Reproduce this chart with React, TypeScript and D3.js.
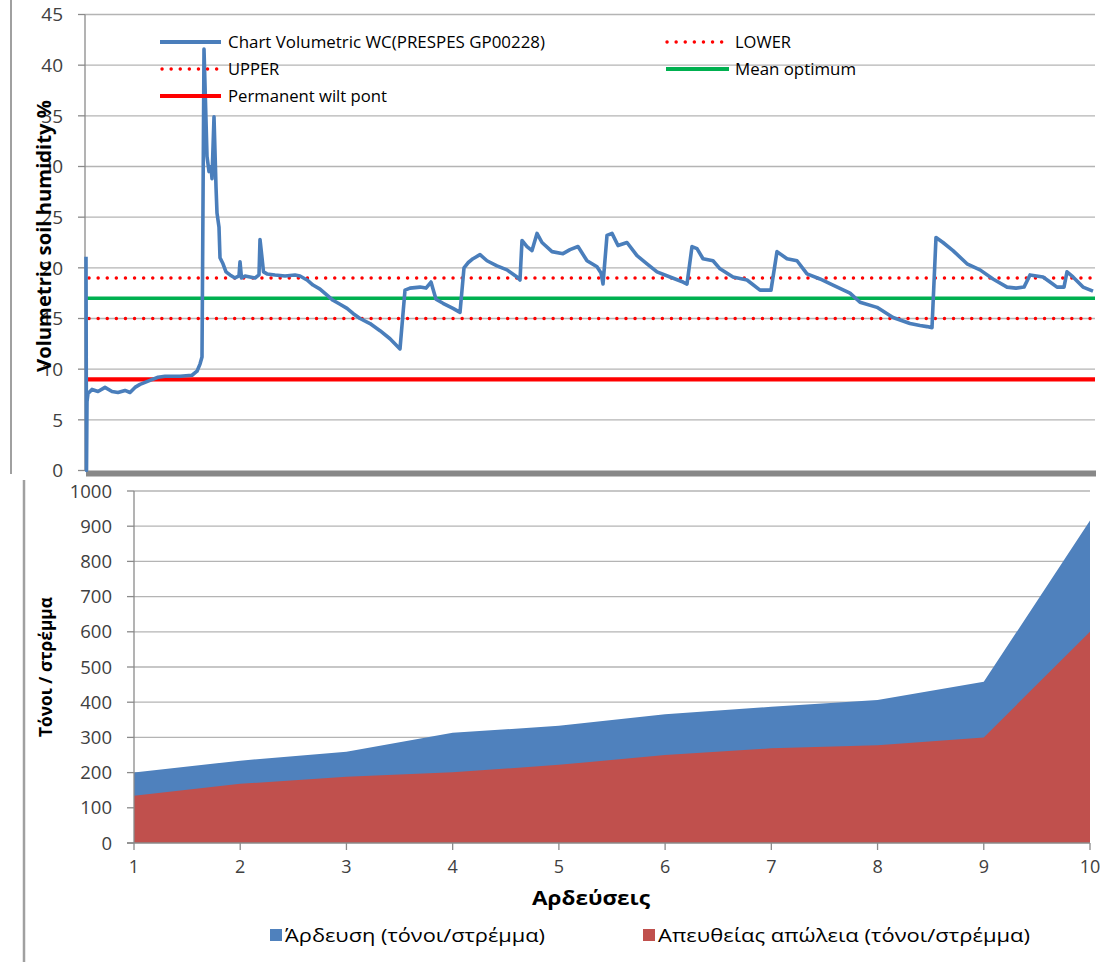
import * as d3 from "d3";

// top panel: soil humidity readings (reading index, %)
const readingIndex = [
  1, 1.5, 2, 3, 7, 13, 20, 27, 33, 40, 45, 50, 55, 65, 73, 80, 95, 107, 112, 115, 117,
  119, 122, 124, 126, 127, 129, 131, 132, 134, 135, 138, 141, 145, 150, 154, 155, 156.5,
  160, 165, 170, 174, 175, 177, 178.5, 182, 190, 200, 210, 215, 222, 228, 235, 242, 248,
  255, 262, 268, 275, 285, 295, 305, 315, 320, 325, 335, 341, 346, 348, 351, 358, 368,
  375, 379, 383, 388, 395, 402, 412, 422, 432, 435, 437, 442, 447, 452, 457, 467, 478,
  485, 493, 502, 512, 516, 518, 522, 527, 533, 542, 552, 562, 572, 585, 598, 602, 607,
  612, 618, 628, 635, 648, 662, 675, 686, 692, 702, 712, 722, 735, 748, 765, 775, 792,
  808, 825, 835, 842, 847, 851, 858, 868, 882, 895, 908, 922, 931, 939, 945, 958, 965,
  972, 979, 982, 988, 998, 1008,
];
const humidity = [
  21.1, 0, 6.8, 7.6, 8.0, 7.8, 8.2, 7.8, 7.7, 7.9, 7.7, 8.2, 8.5, 8.9, 9.2, 9.3, 9.3,
  9.4, 9.8, 10.5, 11.2, 41.6, 31, 29.5, 30, 28.8, 34.9, 28, 25.4, 24, 21, 20.4, 19.6,
  19.3, 19.0, 19.2, 20.6, 19.0, 19.2, 19.1, 19.0, 19.3, 22.8, 21, 19.6, 19.4, 19.3, 19.2,
  19.3, 19.2, 18.8, 18.3, 17.9, 17.3, 16.8, 16.4, 16.0, 15.5, 15.0, 14.5, 13.8, 13.0,
  12.0, 17.8, 18.0, 18.1, 18.0, 18.6, 17.9, 16.9, 16.5, 16.0, 15.6, 20.0, 20.5, 20.9,
  21.3, 20.7, 20.2, 19.8, 19.1, 18.8, 22.7, 22.1, 21.7, 23.4, 22.5, 21.6, 21.4, 21.8,
  22.1, 20.7, 20.1, 19.5, 18.4, 23.2, 23.4, 22.2, 22.5, 21.2, 20.4, 19.6, 19.1, 18.6,
  18.4, 22.1, 21.9, 20.9, 20.7, 19.9, 19.1, 18.8, 17.8, 17.8, 21.6, 20.9, 20.7, 19.4,
  18.9, 18.3, 17.5, 16.6, 16.1, 15.1, 14.5, 14.3, 14.2, 14.1, 23.0, 22.5, 21.7, 20.4,
  19.8, 18.9, 18.1, 18.0, 18.1, 19.3, 19.1, 18.6, 18.1, 18.1, 19.6, 19.1, 18.1, 17.7,
];
const upperLimit = 19;
const lowerLimit = 15;
const meanOptimum = 17;
const wiltPoint = 9;
const humidityTicks = [0, 5, 10, 15, 20, 25, 30, 35, 40, 45];

// bottom panel: irrigations
const irrigations = [1, 2, 3, 4, 5, 6, 7, 8, 9, 10];
const irrigationTons = [200, 234, 259, 313, 333, 366, 387, 406, 458, 916];
const lossTons = [134, 168, 188, 201, 222, 250, 269, 278, 300, 600];
const tonTicks = [0, 100, 200, 300, 400, 500, 600, 700, 800, 900, 1000];

const FONT = "'Open Sans', 'DejaVu Sans', sans-serif";
const GRID = "#b4b4b4";
const AXIS = "#8a8a8a";
const TICK_TEXT = "#404040";
const LINE_BLUE = "#4a7ebb";
const RED = "#ff0000";
const GREEN = "#00b050";
const AREA_BLUE = "#4f81bd";
const AREA_RED = "#c0504d";

function DottedLine({ x1, x2, y }: { x1: number; x2: number; y: number }) {
  return (
    <line
      x1={x1}
      x2={x2}
      y1={y}
      y2={y}
      stroke={RED}
      strokeWidth={3.4}
      strokeLinecap="round"
      strokeDasharray="0.1 9"
    />
  );
}

export default function App() {
  const width = 1107;
  const height = 962;

  // top chart
  const xT = d3.scaleLinear().domain([0, 1010]).range([85, 1095]);
  const yT = d3.scaleLinear().domain([0, 45]).range([470.5, 14.5]);
  const humidityLine = d3
    .line<number>()
    .x((_, i) => xT(readingIndex[i]))
    .y((d) => yT(d));

  // bottom chart
  const xB = d3.scaleLinear().domain([1, 10]).range([134, 1090]);
  const yB = d3.scaleLinear().domain([0, 1000]).range([843, 491]);
  const area = d3
    .area<number>()
    .x((_, i) => xB(irrigations[i]))
    .y0(yB(0))
    .y1((d) => yB(d));

  const [tx0, tx1] = xT.range();

  return (
    <svg
      width={width}
      height={height}
      viewBox={`0 0 ${width} ${height}`}
      style={{ position: "absolute", left: 0, top: 0, background: "#fff", fontFamily: FONT }}
    >
      {/* chart frames */}
      <line x1={11} x2={11} y1={0} y2={474} stroke="#a0a0a0" strokeWidth={2} />
      <line x1={24} x2={24} y1={480} y2={962} stroke="#a0a0a0" strokeWidth={2.5} />

      {/* ---- top chart ---- */}
      {humidityTicks.slice(1).map((t) => (
        <line key={t} x1={tx0} x2={tx1} y1={yT(t)} y2={yT(t)} stroke={GRID} strokeWidth={1.3} />
      ))}
      <line x1={tx0} x2={tx0} y1={yT(45)} y2={yT(0)} stroke={AXIS} strokeWidth={1.3} />
      {humidityTicks.map((t) => (
        <g key={t}>
          <line x1={tx0 - 7} x2={tx0} y1={yT(t)} y2={yT(t)} stroke={AXIS} strokeWidth={1.3} />
          <text
            x={63}
            y={yT(t)}
            dy="0.36em"
            textAnchor="end"
            fontSize={19}
            fill={TICK_TEXT}
          >
            {t}
          </text>
        </g>
      ))}

      <line x1={tx0} x2={tx1} y1={yT(wiltPoint)} y2={yT(wiltPoint)} stroke={RED} strokeWidth={4.2} />
      <line x1={tx0} x2={tx1} y1={yT(meanOptimum)} y2={yT(meanOptimum)} stroke={GREEN} strokeWidth={3.6} />
      <DottedLine x1={tx0 + 4} x2={tx1} y={yT(upperLimit)} />
      <DottedLine x1={tx0 + 4} x2={tx1} y={yT(lowerLimit)} />

      <rect x={tx0 + 1} y={yT(0)} width={tx1 - tx0} height={6} fill="#888888" />

      <path
        d={humidityLine(humidity) ?? ""}
        fill="none"
        stroke={LINE_BLUE}
        strokeWidth={3.6}
        strokeLinejoin="round"
      />

      <text
        transform={`translate(51, 236) rotate(-90)`}
        textAnchor="middle"
        fontSize={19}
        fontWeight="bold"
        fill="#000"
        textLength={272}
        lengthAdjust="spacingAndGlyphs"
      >
        Volumetric soil humidity %
      </text>

      {/* top legend */}
      <g fontSize={16.5} fill="#000">
        <line x1={160} x2={221} y1={42} y2={42} stroke={LINE_BLUE} strokeWidth={4} />
        <text x={228} y={42} dy="0.35em" textLength={317} lengthAdjust="spacingAndGlyphs">
          Chart Volumetric WC(PRESPES GP00228)
        </text>
        <DottedLine x1={162} x2={220} y={69} />
        <text x={228} y={69} dy="0.35em">UPPER</text>
        <line x1={160} x2={221} y1={96} y2={96} stroke={RED} strokeWidth={4} />
        <text x={228} y={96} dy="0.35em" textLength={159} lengthAdjust="spacingAndGlyphs">
          Permanent wilt pont
        </text>
        <DottedLine x1={667} x2={728} y={42} />
        <text x={735} y={42} dy="0.35em">LOWER</text>
        <line x1={666} x2={729} y1={69} y2={69} stroke={GREEN} strokeWidth={4} />
        <text x={735} y={69} dy="0.35em" textLength={121} lengthAdjust="spacingAndGlyphs">
          Mean optimum
        </text>
      </g>

      {/* ---- bottom chart ---- */}
      {tonTicks.slice(1).map((t) => (
        <line key={t} x1={xB(1)} x2={xB(10)} y1={yB(t)} y2={yB(t)} stroke={GRID} strokeWidth={1.3} />
      ))}
      <path d={area(irrigationTons) ?? ""} fill={AREA_BLUE} />
      <path d={area(lossTons) ?? ""} fill={AREA_RED} />
      <line x1={xB(1)} x2={xB(1)} y1={yB(1000)} y2={yB(0)} stroke={AXIS} strokeWidth={1.3} />
      <line x1={xB(1) - 7} x2={xB(10)} y1={yB(0)} y2={yB(0)} stroke={AXIS} strokeWidth={1.3} />
      {tonTicks.map((t) => (
        <g key={t}>
          <line x1={xB(1) - 7} x2={xB(1)} y1={yB(t)} y2={yB(t)} stroke={AXIS} strokeWidth={1.3} />
          <text x={112} y={yB(t)} dy="0.36em" textAnchor="end" fontSize={18.5} fill={TICK_TEXT}>
            {t}
          </text>
        </g>
      ))}
      {irrigations.map((n) => (
        <g key={n}>
          <line x1={xB(n)} x2={xB(n)} y1={yB(0)} y2={yB(0) + 7} stroke={AXIS} strokeWidth={1.3} />
          <text x={xB(n)} y={yB(0) + 30} textAnchor="middle" fontSize={18} fill={TICK_TEXT}>
            {n}
          </text>
        </g>
      ))}

      <text
        transform={`translate(52, 667) rotate(-90)`}
        textAnchor="middle"
        fontSize={18}
        fontWeight="bold"
        fill="#000"
        textLength={140}
        lengthAdjust="spacingAndGlyphs"
      >
        Τόνοι / στρέμμα
      </text>
      <text
        x={591}
        y={905}
        textAnchor="middle"
        fontSize={19}
        fontWeight="bold"
        fill="#000"
        textLength={118}
        lengthAdjust="spacingAndGlyphs"
      >
        Αρδεύσεις
      </text>

      {/* bottom legend */}
      <g fontSize={19} fill="#000">
        <rect x={270} y={929} width={12} height={12} fill={AREA_BLUE} />
        <text x={285} y={942} textLength={260} lengthAdjust="spacingAndGlyphs">
          Άρδευση (τόνοι/στρέμμα)
        </text>
        <rect x={643} y={929} width={12} height={12} fill={AREA_RED} />
        <text x={658} y={942} textLength={372} lengthAdjust="spacingAndGlyphs">
          Απευθείας απώλεια (τόνοι/στρέμμα)
        </text>
      </g>
    </svg>
  );
}
